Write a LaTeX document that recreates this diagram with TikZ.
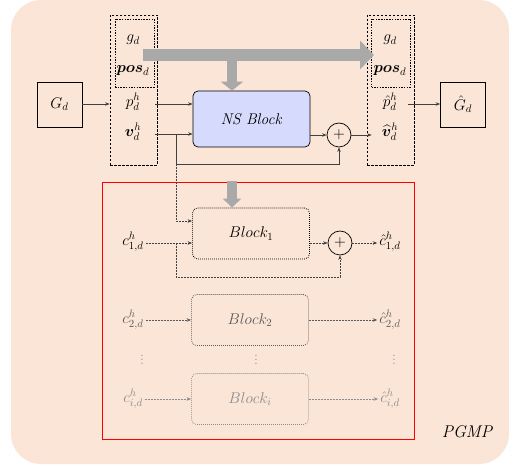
\RequirePackage{fix-cm}
\documentclass[tikz,border=0pt]{standalone}
\usepackage{amsmath,bm}
\usetikzlibrary{arrows.meta}
\definecolor{bgpeach}{HTML}{FBE5D6}
\definecolor{nsblue}{HTML}{D6DBFE}
\definecolor{bigarrow}{HTML}{A9A9A9}
\definecolor{lineA}{HTML}{404040}
\definecolor{lineB}{HTML}{5A5A5A}
\definecolor{lineC}{HTML}{8C8C8C}
\tikzset{
  bigfont/.style={font=\fontsize{15.5}{18}\selectfont},
  txt/.style={inner sep=0pt, bigfont},
  sq/.style={draw=black, line width=0.7pt, minimum width=45pt, minimum height=45pt, inner sep=0pt, bigfont},
  outerbox/.style={draw=black, line width=0.7pt, dash pattern=on 2.5pt off 1.5pt, minimum width=47pt, minimum height=150pt, inner sep=0pt},
  innerbox/.style={draw=black, line width=0.7pt, dash pattern=on 1.5pt off 1.2pt, minimum width=39pt, minimum height=68pt, inner sep=0pt},
  nsbox/.style={draw=black, line width=0.7pt, fill=nsblue, rounded corners=5pt, minimum width=117pt, minimum height=56pt, bigfont},
  sumnode/.style={draw=black, line width=0.7pt, circle, minimum size=24pt, inner sep=0pt, bigfont},
  blk/.style={draw=#1, line width=0.8pt, dash pattern=on 0.8pt off 1.2pt, rounded corners=5pt, minimum width=117pt, minimum height=51pt, text=#1, bigfont},
  tip/.style={-{Stealth[length=4.5pt,width=3.5pt]}},
  solidarr/.style={tip, draw=lineA, line width=0.7pt},
  dasharr/.style={tip, draw=#1, line width=0.7pt, dash pattern=on 2pt off 1pt},
  fatarrow/.style={draw=bigarrow, line width=12pt, -{Triangle[length=14pt,width=28pt]}},
  fatdown/.style={draw=bigarrow, line width=10pt, -{Triangle[length=9pt,width=22pt]}},
}
\begin{document}
\begin{tikzpicture}[x=1pt,y=-1pt]
\useasboundingbox (0,0) rectangle (509,470);
% peach panel
\fill[bgpeach, rounded corners=30pt] (11,0) rectangle (509,464);
\node[font=\fontsize{17}{20}\selectfont\itshape] (pgmp) at (467,432) {PGMP};

% input graph and its fields
\node[sq] (Gd) at (59.5,104.5) {$G_d$};
\node[outerbox] (lbox) at (133.5,90) {};
\node[innerbox] (lin) at (134.5,53) {};
\node[txt] (gL) at (133,40) {$g_d$};
\node[txt] (posL) at (133,71) {$\bm{pos}_d$};
\node[txt] (pL) at (133,102) {$p_d^h$};
\node[txt] (vL) at (133,132) {$\bm{v}_d^h$};

% NS block and residual sum
\node[nsbox] (ns) at (251.5,119) {\textit{NS Block}};
\node[sumnode] (sum) at (339,135) {$+$};

% output fields and output graph
\node[outerbox] (rbox) at (390.5,90) {};
\node[innerbox] (rin) at (391,53) {};
\node[txt] (gR) at (390,40) {$g_d$};
\node[txt] (posR) at (390,71) {$\bm{pos}_d$};
\node[txt] (pR) at (390,102) {$\hat{p}_d^h$};
\node[txt] (vR) at (390,132) {$\widehat{\bm{v}}_d^h$};
\node[sq] (Gh) at (463,104.5) {$\hat{G}_d$};

% static fields carried across
\coordinate (fatstart) at (143,55);
\coordinate (fatend) at (374,55);
\coordinate (fatsplit) at (232,55);
\draw[fatarrow] (fatstart) -- (fatend);
\draw[fatdown] (fatsplit) -- (fatsplit |- ns.north);

% top connectors
\coordinate (pin) at (133,104);
\coordinate (vin) at (133,134);
\draw[solidarr] (Gd.east |- pin) -- (lbox.west |- pin);
\draw[solidarr] ([xshift=-2pt]lbox.east |- pin) -- (ns.west |- pin);
\draw[solidarr] ([xshift=-2pt]lbox.east |- vin) -- (ns.west |- vin);
\coordinate (vbr) at (176,134);
\coordinate (vlow) at (176,164);
\draw[solidarr] (vbr) -- (vlow) -| (sum.south);
\draw[solidarr] (ns.east |- sum) -- (sum.west);
\draw[solidarr] (sum.east) -- ([xshift=5pt]rbox.west |- sum);
\draw[solidarr] ([xshift=-6pt]rbox.east |- pin) -- (Gh.west |- pin);

% component blocks
\node[draw=red, line width=0.8pt, minimum width=312pt, minimum height=257pt, inner sep=0pt] (frame) at (258,310.5) {};

\node[blk=black] (b1) at (251,233.5) {$Block_1$};
\node[sumnode] (sum1) at (340,243) {$+$};
\node[txt] (c1) at (133,242) {$c_{1,d}^h$};
\node[txt] (c1h) at (390,242) {$\hat{c}_{1,d}^h$};

\node[blk=lineB] (b2) at (250,320) {$Block_2$};
\node[txt, text=lineB] (c2) at (133,320) {$c_{2,d}^h$};
\node[txt, text=lineB] (c2h) at (390,320) {$\hat{c}_{2,d}^h$};

\node[txt, text=lineC] (dl) at (142,357) {$\vdots$};
\node[txt, text=lineC] (dm) at (256,357) {$\vdots$};
\node[txt, text=lineC] (dr) at (394,357) {$\vdots$};

\node[blk=lineC] (bi) at (250,399) {$Block_i$};
\node[txt, text=lineC] (ci) at (133,399) {$c_{i,d}^h$};
\node[txt, text=lineC] (cih) at (390,399) {$\hat{c}_{i,d}^h$};

% feature path into the first block
\coordinate (b1top) at (232,181);
\draw[fatdown, -{Triangle[length=9pt,width=18pt]}] (b1top) -- (b1top |- b1.north);
\coordinate (b1side) at (176,221);
\draw[dasharr=lineA] (vlow) -- (b1side) -- (b1.west |- b1side);

% first block connectors with residual
\coordinate (c1row) at (133,243);
\draw[dasharr=lineA] ([xshift=2pt]c1.east |- c1row) -- (b1.west |- c1row);
\coordinate (c1br) at (176,243);
\coordinate (c1low) at (176,277);
\draw[dasharr=lineA] (c1br) -- (c1low) -| (sum1.south);
\draw[dasharr=lineA] (b1.east |- sum1) -- (sum1.west);
\draw[dasharr=lineA] (sum1.east) -- ([xshift=-2pt]c1h.west |- sum1);

% further blocks
\draw[dasharr=lineB] ([xshift=2pt]c2.east) -- (b2.west |- c2);
\draw[dasharr=lineB] (b2.east |- c2h) -- ([xshift=-2pt]c2h.west);
\draw[dasharr=lineC] ([xshift=2pt]ci.east) -- (bi.west |- ci);
\draw[dasharr=lineC] (bi.east |- cih) -- ([xshift=-2pt]cih.west);
\end{tikzpicture}
\end{document}
